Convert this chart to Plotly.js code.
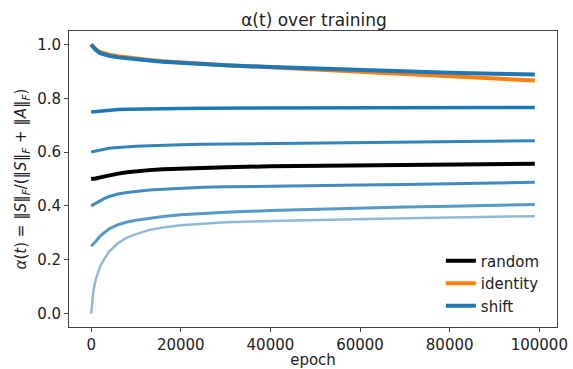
<!DOCTYPE html>
<html>
<head>
<meta charset="utf-8">
<script src="https://cdn.plot.ly/plotly-3.0.1.min.js"></script>
<style>html,body{margin:0;padding:0;background:#fff;}#chart{width:573px;height:369px;}</style>
</head>
<body>
<div id="chart"></div>
<script>
const epochs = [0, 500, 1000, 2000, 3000, 4000, 6000, 8000, 10000, 13000, 16000, 20000, 25000, 30000, 40000, 50000, 60000, 70000, 80000, 90000, 99000];

const randomInit = [0.500, 0.500, 0.502, 0.506, 0.510, 0.514, 0.520, 0.525, 0.529, 0.533, 0.536, 0.539, 0.542, 0.544, 0.547, 0.549, 0.551, 0.553, 0.554, 0.556, 0.557];
const identityInit = [1.000, 0.990, 0.982, 0.972, 0.966, 0.962, 0.956, 0.951, 0.947, 0.942, 0.938, 0.933, 0.928, 0.923, 0.915, 0.907, 0.898, 0.889, 0.880, 0.872, 0.866];
const shift100 = [1.000, 0.990, 0.980, 0.968, 0.962, 0.958, 0.952, 0.948, 0.944, 0.940, 0.936, 0.932, 0.927, 0.923, 0.916, 0.910, 0.904, 0.899, 0.895, 0.891, 0.888];
const shift75 = [0.749, 0.750, 0.751, 0.753, 0.755, 0.756, 0.758, 0.759, 0.760, 0.761, 0.762, 0.762, 0.763, 0.763, 0.764, 0.764, 0.765, 0.765, 0.765, 0.766, 0.766];
const shift60 = [0.600, 0.602, 0.604, 0.608, 0.611, 0.614, 0.617, 0.620, 0.622, 0.624, 0.626, 0.627, 0.629, 0.630, 0.632, 0.634, 0.635, 0.637, 0.639, 0.640, 0.642];
const shift40 = [0.400, 0.405, 0.410, 0.420, 0.428, 0.435, 0.444, 0.450, 0.454, 0.459, 0.462, 0.466, 0.469, 0.471, 0.474, 0.476, 0.478, 0.480, 0.483, 0.486, 0.488];
const shift25 = [0.250, 0.258, 0.268, 0.288, 0.303, 0.315, 0.330, 0.340, 0.347, 0.355, 0.361, 0.367, 0.372, 0.376, 0.383, 0.388, 0.392, 0.396, 0.399, 0.402, 0.405];
const shift0 = [0.000, 0.085, 0.125, 0.175, 0.205, 0.230, 0.262, 0.282, 0.295, 0.311, 0.320, 0.328, 0.334, 0.339, 0.344, 0.348, 0.351, 0.354, 0.357, 0.360, 0.362];

const xTicks = [0, 20000, 40000, 60000, 80000, 100000];
const yTicks = [0.0, 0.2, 0.4, 0.6, 0.8, 1.0];

const BLUE = '31,119,180';
const shiftSeries = [
  {y: shift0, a: 0.5, w: 2.5},
  {y: shift25, a: 0.75, w: 3},
  {y: shift40, a: 0.85, w: 3},
  {y: shift60, a: 0.9, w: 3},
  {y: shift75, a: 1.0, w: 3.5},
  {y: shift100, a: 1.0, w: 4}
];

const traces = [
  {x: epochs, y: randomInit, mode: 'lines', name: 'random', line: {color: '#000000', width: 4}, legendgroup: 'random'},
  {x: epochs, y: identityInit, mode: 'lines', name: 'identity', line: {color: '#ff7f0e', width: 4}, legendgroup: 'identity'}
];
shiftSeries.forEach((s, i) => {
  traces.push({
    x: epochs, y: s.y, mode: 'lines', name: 'shift',
    line: {color: 'rgba(' + BLUE + ',' + s.a + ')', width: s.w},
    legendgroup: 'shift', showlegend: i === 5
  });
});

const FONT = 'DejaVu Sans, sans-serif';
const layout = {
  width: 573, height: 369,
  margin: {l: 69, r: 16, t: 31, b: 42},
  paper_bgcolor: '#ffffff', plot_bgcolor: '#ffffff',
  font: {family: FONT, size: 15, color: '#222222'},
  showlegend: true,
  title: {text: 'α(t) over training', font: {family: FONT, size: 17, color: '#222222'}, x: 0.548, xanchor: 'center', y: 0.946, yanchor: 'middle'},
  xaxis: {
    range: [-4950, 103950], tickvals: xTicks, ticktext: xTicks.map(String),
    showgrid: false, zeroline: false, showline: true, mirror: true, linecolor: '#444', linewidth: 1,
    ticks: 'outside', ticklen: 4, tickcolor: '#444', tickfont: {size: 15},
    title: {text: 'epoch', font: {size: 15}, standoff: 2}
  },
  yaxis: {
    range: [-0.05, 1.05], tickvals: yTicks, ticktext: yTicks.map(v => v.toFixed(1)),
    showgrid: false, zeroline: false, showline: true, mirror: true, linecolor: '#444', linewidth: 1,
    ticks: 'outside', ticklen: 4, tickcolor: '#444', tickfont: {size: 15},
    title: {text: '<i>α</i>(<i>t</i>) = ‖<i>S</i>‖<sub><i>F</i></sub>/(‖<i>S</i>‖<sub><i>F</i></sub> + ‖<i>A</i>‖<sub><i>F</i></sub>)', font: {size: 15}, standoff: 6}
  },
  legend: {x: 0.762, xanchor: 'left', y: 0.279, yanchor: 'top', bgcolor: 'rgba(255,255,255,0)', borderwidth: 0, font: {size: 15}, tracegroupgap: 0}
};

Plotly.newPlot('chart', traces, layout, {staticPlot: true, displayModeBar: false});
</script>
</body>
</html>
